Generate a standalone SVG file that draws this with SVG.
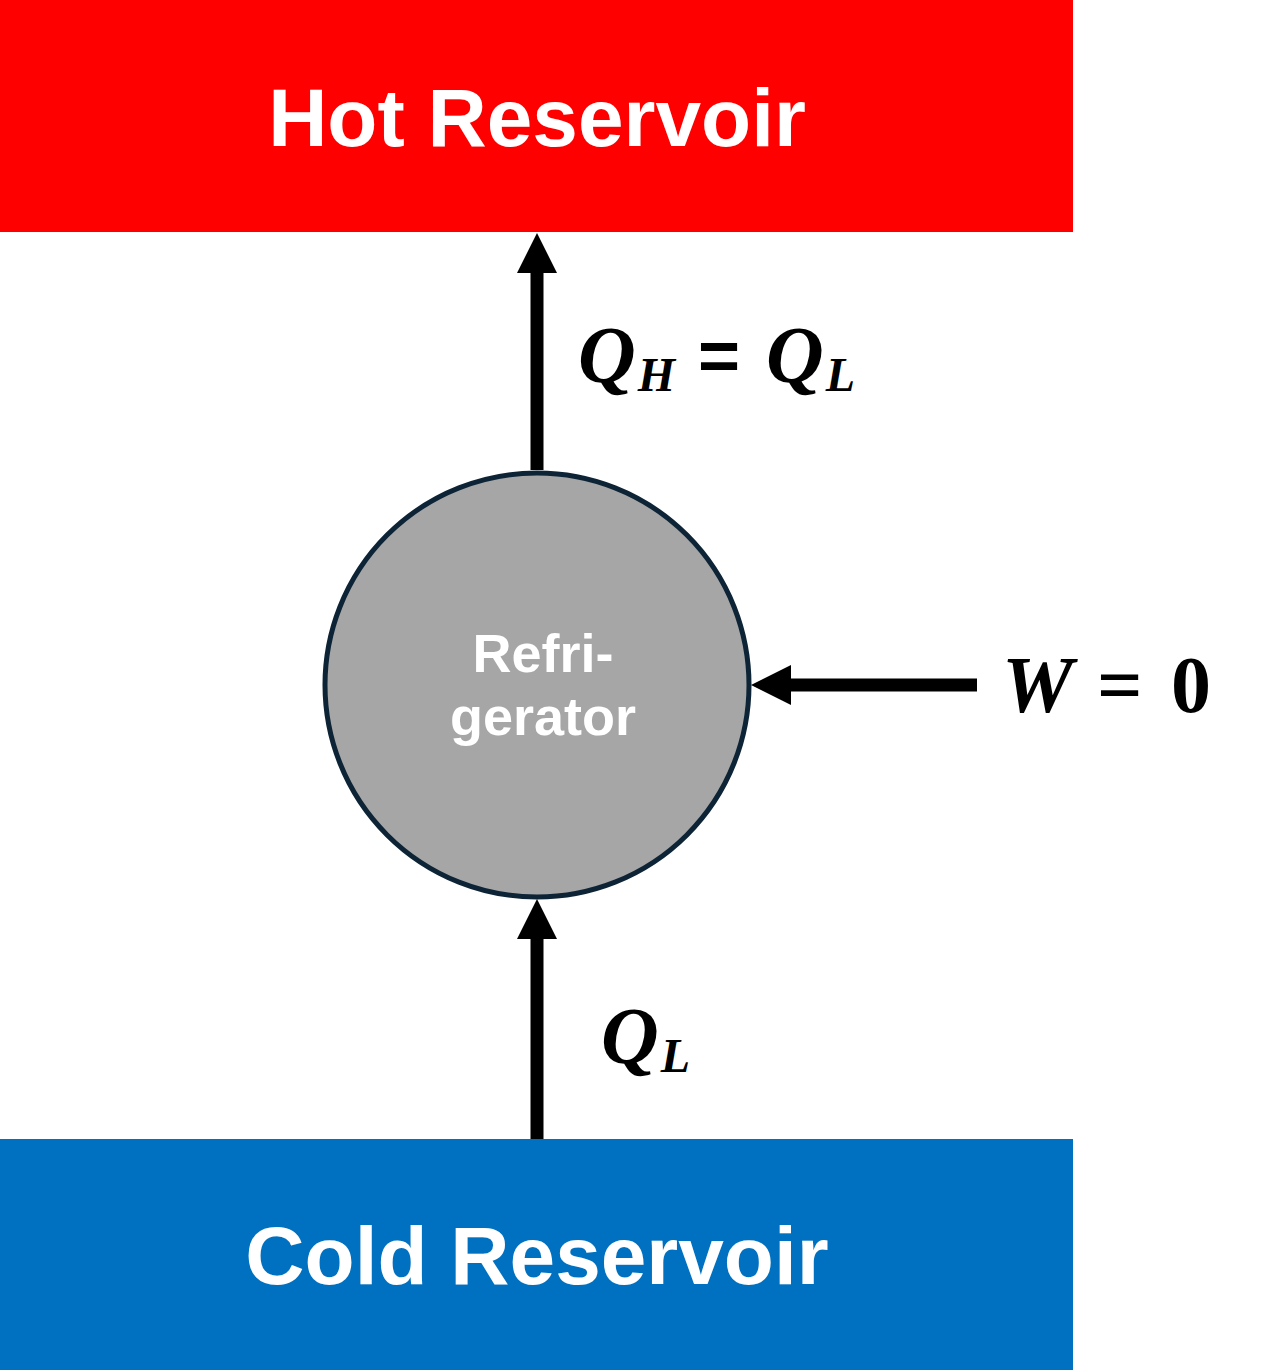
<svg xmlns="http://www.w3.org/2000/svg" width="1267" height="1370" viewBox="0 0 1267 1370">
<style>
.res{font-family:"Liberation Sans",Arial,sans-serif;font-weight:bold;font-size:82px;fill:#fff;text-anchor:middle}
.node{font-family:"Liberation Sans",Arial,sans-serif;font-weight:bold;font-size:54px;fill:#fff;text-anchor:middle}
.m{font-family:"Liberation Serif","Times New Roman",serif;font-weight:bold;font-style:italic;font-size:80px;fill:#000}
.sub{font-size:48px}
.eq{font-family:"Liberation Sans",Arial,sans-serif;font-weight:bold;font-size:72px;fill:#000}
.up{font-family:"Liberation Serif","Times New Roman",serif;font-weight:bold;font-size:80px;fill:#000}
.conn{stroke:#000;stroke-width:13;fill:none}
</style>
<rect width="1267" height="1370" fill="#fff"/>
<g id="hot">
<rect x="0" y="0" width="1073" height="232" fill="#FF0000"/>
<text class="res" x="537" y="146">Hot Reservoir</text>
</g>
<g id="cold">
<rect x="0" y="1139" width="1073" height="231" fill="#0070C0"/>
<text class="res" x="537" y="1284">Cold Reservoir</text>
</g>
<g id="refrigerator">
<circle cx="537" cy="685" r="212" fill="#A6A6A6" stroke="#0D2436" stroke-width="5"/>
<text class="node" x="543" y="672">Refri-</text>
<text class="node" x="543" y="735">gerator</text>
</g>
<g id="connectors">
<line class="conn" x1="537" y1="470" x2="537" y2="270"/>
<polygon points="537,233 517,273 557,273" fill="#000"/>
<line class="conn" x1="537" y1="1139" x2="537" y2="935"/>
<polygon points="537,899 517,939 557,939" fill="#000"/>
<line class="conn" x1="977" y1="685" x2="788" y2="685"/>
<polygon points="751,685 791,665 791,705" fill="#000"/>
</g>
<g id="labels">
<text class="m" x="578" y="382">Q<tspan class="sub" dx="2" dy="9">H</tspan></text>
<text class="eq" x="698" y="380">=</text>
<text class="m" x="766" y="382">Q<tspan class="sub" dx="2" dy="9">L</tspan></text>
<text class="m" x="601" y="1063">Q<tspan class="sub" dx="2" dy="9" font-size="44">L</tspan></text>
<text class="m" x="1002" y="712">W</text>
<text class="up" x="1097" y="712" font-weight="normal">=</text>
<text class="up" x="1171" y="712">0</text>
</g>
</svg>
